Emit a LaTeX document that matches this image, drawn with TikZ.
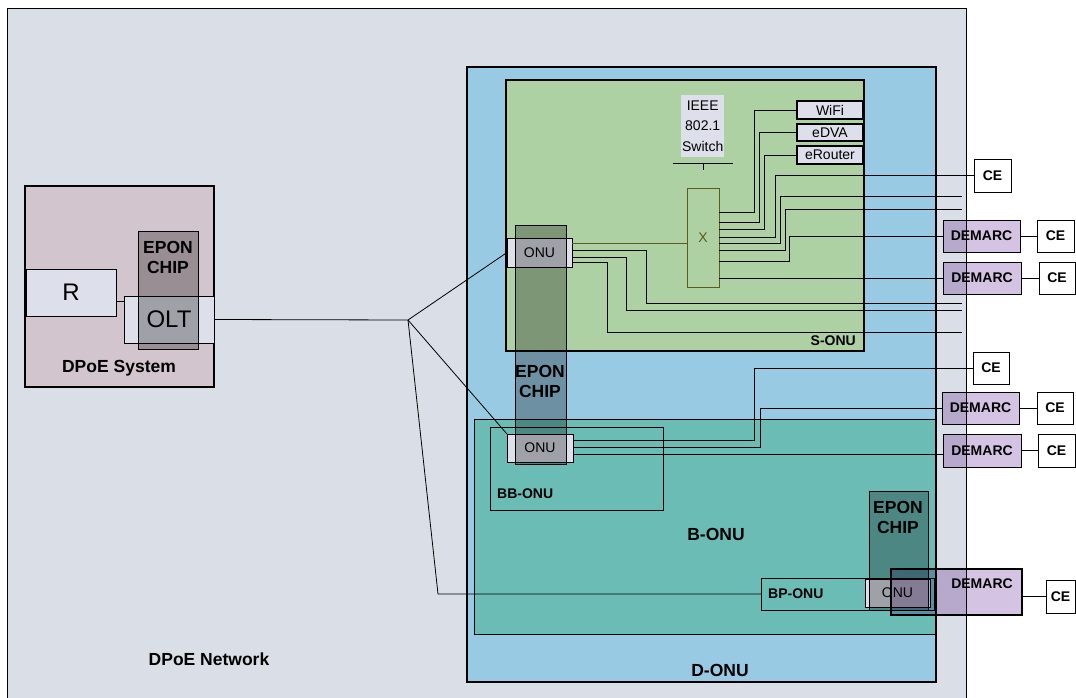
\documentclass[tikz,border=0pt]{standalone}
\usepackage{fontspec}
\setmainfont{Liberation Sans}
\definecolor{netbg}{HTML}{DADEE6}
\definecolor{sysbg}{HTML}{D3C5CD}
\definecolor{lite}{HTML}{DDE0EA}
\definecolor{donu}{HTML}{98CAE3}
\definecolor{sonu}{HTML}{AED1A4}
\definecolor{bonu}{HTML}{6CBCB6}
\definecolor{demarc}{HTML}{D5C3E3}
\definecolor{olivex}{HTML}{5C5A1C}
\begin{document}
\begin{tikzpicture}[x=1pt,y=-1pt,
  bx/.style={draw=black,line width=0.9pt,inner sep=0pt,outer sep=0pt,anchor=north west},
  chip/.style={bx,fill=black,fill opacity=0.28,text opacity=1},
  fbig/.style={font=\fontsize{17.5}{20}\selectfont\bfseries,inner sep=0pt,align=center},
  fsm/.style={font=\fontsize{14}{16}\selectfont\bfseries},
  fnorm/.style={font=\fontsize{14}{16}\selectfont},
  fhuge/.style={font=\fontsize{24}{28}\selectfont},
  wire/.style={draw=black,line width=0.8pt},
  dm/.style={bx,fill=demarc,fsm},
  ce/.style={bx,fill=white,fsm},
  lite box/.style={bx,fill=lite,line width=1.1pt,fnorm}
]
\useasboundingbox (0,0) rectangle (1076,698);

% DPoE network
\node[bx,fill=netbg,minimum width=959pt,minimum height=720pt] (net) at (7,8) {};
\node[fbig] (netl) at (209,659) {DPoE Network};

% DPoE system
\node[bx,fill=sysbg,line width=1.8pt,minimum width=189pt,minimum height=201pt] (sys) at (25,186) {};
\node[fbig] (sysl) at (119,368) {DPoE System};
\node[bx,fill=lite,minimum width=90pt,minimum height=47pt,fhuge] (R) at (26,269) {R};
\node[bx,fill=lite,minimum width=90pt,minimum height=47pt,fhuge] (OLT) at (124,296) {OLT};
\node[chip,minimum width=60pt,minimum height=118pt] (chip1) at (138,231) {};
\node[fbig] (chip1l) at (168,257) {EPON\\CHIP};
\draw[wire] (R.east |- 0,301) -- (OLT.west |- 0,301);

% D-ONU and sub boxes
\node[bx,fill=donu,line width=1.3pt,minimum width=469pt,minimum height=615pt] (donu) at (467,67) {};
\node[fbig] (donul) at (720,670) {D-ONU};
\node[bx,fill=sonu,line width=2pt,minimum width=358pt,minimum height=271pt] (sonu) at (506,80) {};
\node[fsm,anchor=east,inner sep=0pt] (sonul) at (856,341) {S-ONU};
\node[bx,fill=bonu,minimum width=461pt,minimum height=215pt] (bonu) at (474,419) {};
\node[fbig] (bonul) at (716,534) {B-ONU};
\node[bx,minimum width=173pt,minimum height=83pt] (bbonu) at (490,427) {};
\node[fsm,anchor=west,inner sep=0pt] (bbonul) at (497,494) {BB-ONU};
\node[bx,minimum width=173pt,minimum height=32pt] (bponu) at (761,578) {};
\node[fsm,anchor=west,inner sep=0pt] (bponul) at (768,594) {BP-ONU};

% switch
\node[fill=lite,inner sep=0pt,minimum width=43pt,minimum height=62pt,anchor=north west,
      font=\fontsize{14}{20.5}\selectfont,align=center] (ieee) at (681,95) {IEEE\\802.1\\Switch};
\draw[wire] (673,163) -- (733,163);
\draw[wire] (703,163) -- (703,170);
\node[bx,draw=olivex,minimum width=32pt,minimum height=99pt,text=olivex,fnorm] (X) at (687,188) {X};
\node[lite box,minimum width=66pt,minimum height=18pt] (wifi) at (797,101) {WiFi};
\node[lite box,minimum width=66pt,minimum height=17pt] (edva) at (797,124) {eDVA};
\node[lite box,minimum width=66pt,minimum height=18pt] (erouter) at (797,146) {eRouter};

% ONUs
\node[bx,fill=lite,minimum width=65pt,minimum height=29pt,fnorm] (onuS) at (507,238) {ONU};
\node[bx,fill=lite,minimum width=66pt,minimum height=28pt,fnorm] (onuB) at (507,434) {ONU};
\node[bx,fill=lite,minimum width=65pt,minimum height=28pt,fnorm] (onuP) at (865,579) {ONU};

% EPON chips
\node[chip,minimum width=51pt,minimum height=239pt] (chip2) at (515,225) {};
\node[fbig] (chip2l) at (540,381) {EPON\\CHIP};
\node[chip,minimum width=59pt,minimum height=119pt] (chip3) at (869,491) {};
\node[fbig] (chip3l) at (898,517) {EPON\\CHIP};

% free wire ends
\coordinate (sp) at (408,320);
\coordinate (e1) at (962,196);
\coordinate (e2) at (962,209);
\coordinate (e3) at (962,303);
\coordinate (e4) at (962,310);
\coordinate (e5) at (962,332);

% CE and DEMARC
\begin{scope}[blend mode=multiply]
\node[dm,minimum width=77pt,minimum height=32pt] (d1) at (943,220) {DEMARC};
\node[dm,minimum width=78pt,minimum height=32pt] (d2) at (943,262) {DEMARC};
\node[dm,minimum width=77pt,minimum height=32pt] (d3) at (942,392) {DEMARC};
\node[dm,minimum width=78pt,minimum height=33pt] (d4) at (943,434) {DEMARC};
\node[dm,line width=2pt,minimum width=131pt,minimum height=46pt] (d5) at (891,569) {};
\node[fsm,inner sep=0pt] (d5l) at (982,584) {DEMARC};
\end{scope}
\node[ce,minimum width=37pt,minimum height=33pt] (ce1) at (974,159) {CE};
\node[ce,minimum width=37pt,minimum height=32pt] (ce2) at (1037,220) {CE};
\node[ce,minimum width=36pt,minimum height=32pt] (ce3) at (1039,262) {CE};
\node[ce,minimum width=36pt,minimum height=32pt] (ce4) at (973,352) {CE};
\node[ce,minimum width=36pt,minimum height=32pt] (ce5) at (1037,392) {CE};
\node[ce,minimum width=37pt,minimum height=33pt] (ce6) at (1038,434) {CE};
\node[ce,minimum width=29pt,minimum height=33pt] (ce7) at (1046,580) {CE};

% wires: OLT / splitter
\draw[wire] (OLT.east) -- (sp);
\draw[wire] (sp) -- (onuS.west);
\draw[wire] (sp) -- (onuB.north west);
\draw[wire] (sp) -- (438,594) -- (bponu.west);

% wires in S-ONU
\draw[wire,draw=olivex] (onuS.east |- 0,243) -- (X.west |- 0,243);
\draw[wire] (X.east |- 0,212) -| (754,110) -- (wifi.west);
\draw[wire] (X.east |- 0,222) -| (759,132.5) -- (edva.west);
\draw[wire] (X.east |- 0,229) -| (764,155) -- (erouter.west);
\draw[wire] (X.east |- 0,237) -| (775,175.5) -- (ce1.west);
\draw[wire] (X.east |- 0,243) -| (780,196) -- (e1);
\draw[wire] (X.east |- 0,250) -| (785,209) -- (e2);
\draw[wire] (X.east |- 0,261) -| (789,236) -- (d1.west);
\draw[wire] (X.east |- d2.west) -- (d2.west);
\draw[wire] (onuS.east |- 0,250) -| (646,303) -- (e3);
\draw[wire] (onuS.east |- 0,257) -| (626,310) -- (e4);
\draw[wire] (onuS.east |- 0,262) -| (607,332) -- (e5);

% wires from BB ONU
\draw[wire] (onuB.east |- 0,440) -| (754,368) -- (ce4.west);
\draw[wire] (onuB.east |- 0,447) -| (760,408) -- (d3.west);
\draw[wire] (onuB.east |- 0,454) -- (d4.west |- 0,454);

% DEMARC to CE
\draw[wire] (d1) -- (ce2);
\draw[wire] (d2) -- (ce3);
\draw[wire] (d3) -- (ce5);
\draw[wire] (d4) -- (ce6);
\draw[wire] (ce7.west -| d5.east) -- (ce7.west);
\end{tikzpicture}
\end{document}
